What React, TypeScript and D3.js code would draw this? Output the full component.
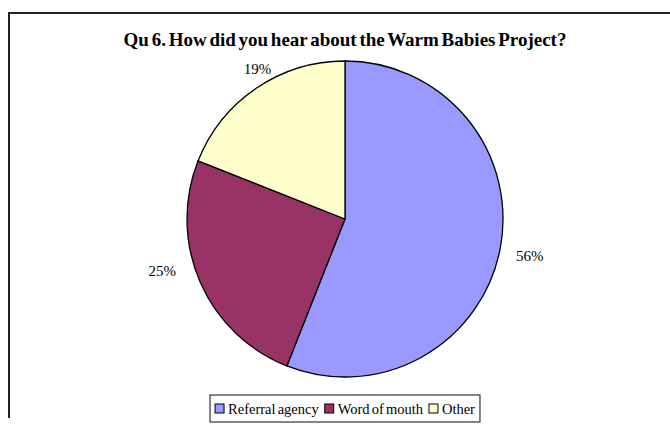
import React from "react";
import * as d3 from "d3";

const categories = ["Referral agency", "Word of mouth", "Other"];
const values = [56, 25, 19];
const labels = ["56%", "25%", "19%"];
const colors = ["#9999FF", "#993366", "#FFFFCC"];
const title = "Qu 6. How did you hear about the Warm Babies Project?";

const W = 670;
const H = 425;
const cx = 345;
const cy = 219;
const R = 158;
const FONT = "'Liberation Serif', 'Times New Roman', serif";

// layout-only nudges that mimic the spreadsheet's label placement
const LABEL_NUDGE: [number, number][] = [
  [2, 2],
  [-12, -22],
  [17, 4],
];

function measure(s: string, size: number): number {
  if (typeof document === "undefined") return s.length * size * 0.5;
  const canvas = document.createElement("canvas");
  const ctx = canvas.getContext("2d");
  if (!ctx) return s.length * size * 0.5;
  ctx.font = `${size}px 'Liberation Serif'`;
  return ctx.measureText(s).width;
}

export default function App() {
  const pie = d3.pie<number>().sort(null).value((d) => d);
  const arcs = pie(values);
  const arc = d3.arc<d3.PieArcDatum<number>>().innerRadius(0).outerRadius(R);
  const labelArc = d3.arc<d3.PieArcDatum<number>>().innerRadius(186).outerRadius(186);

  const legendFont = 14.5;
  const wordSp = -1.5;
  const sq = 9;
  const itemWidths = categories.map(
    (c) => sq + 4 + measure(c, legendFont) + wordSp * (c.split(" ").length - 1)
  );
  const gap = 6;
  const totalW = itemWidths.reduce((a, b) => a + b, 0) + gap * (categories.length - 1);
  const padX = 5;
  const boxW = totalW + padX * 2;
  const boxX = cx - boxW / 2;
  const boxY = 395;
  const boxH = 27;
  let xPos = boxX + padX;
  const legendItems = categories.map((c, i) => {
    const x = xPos;
    xPos += itemWidths[i] + gap;
    return { c, i, x };
  });

  return (
    <svg
      width={W}
      height={H}
      style={{ position: "absolute", left: 0, top: 0, background: "#fff" }}
      fontFamily={FONT}
    >
      <rect x={0} y={0} width={W} height={H} fill="#fff" />
      <line x1={9} y1={13} x2={W} y2={13} stroke="#222" strokeWidth={2} />
      <line x1={9} y1={12} x2={9} y2={418} stroke="#222" strokeWidth={2} />
      <text
        x={cx}
        y={46}
        textAnchor="middle"
        fontWeight="bold"
        fontSize={19}
        fill="#000"
        wordSpacing={-2}
      >
        {title}
      </text>
      <g transform={`translate(${cx},${cy})`}>
        {arcs.map((a, i) => (
          <path key={i} d={arc(a) || ""} fill={colors[i]} stroke="#000" strokeWidth={1.3} />
        ))}
        {arcs.map((a, i) => {
          const [lx, ly] = labelArc.centroid(a);
          const [nx, ny] = LABEL_NUDGE[i] || [0, 0];
          return (
            <text
              key={i}
              x={lx + nx}
              y={ly + ny}
              textAnchor="middle"
              dominantBaseline="central"
              fontSize={15}
              fill="#000"
            >
              {labels[i]}
            </text>
          );
        })}
      </g>
      <rect x={boxX} y={boxY} width={boxW} height={boxH} fill="#fff" stroke="#333" strokeWidth={1.2} />
      {legendItems.map(({ c, i, x }) => (
        <g key={c}>
          <rect
            x={x}
            y={boxY + boxH / 2 - sq / 2}
            width={sq}
            height={sq}
            fill={colors[i]}
            stroke="#000"
            strokeWidth={1}
          />
          <text
            x={x + sq + 4}
            y={boxY + boxH / 2}
            dominantBaseline="central"
            fontSize={legendFont}
            wordSpacing={wordSp}
            fill="#000"
          >
            {c}
          </text>
        </g>
      ))}
    </svg>
  );
}
